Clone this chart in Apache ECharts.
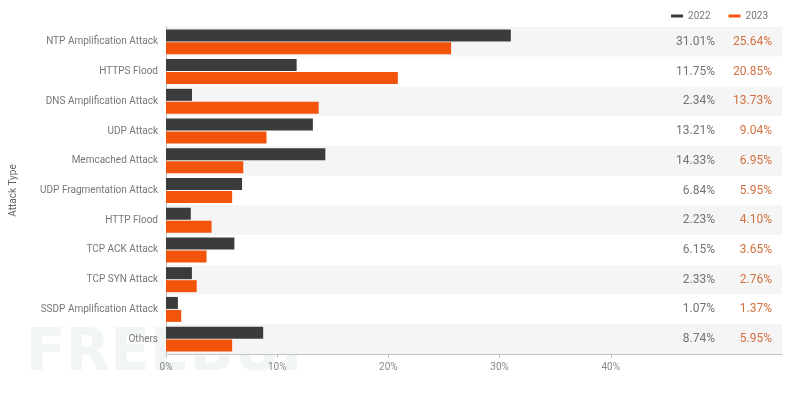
<!DOCTYPE html>
<html>
<head>
<meta charset="utf-8">
<script src="https://cdn.jsdelivr.net/npm/echarts@6/dist/echarts.min.js"></script>
<style>
html,body{margin:0;padding:0;background:#fff;}
#chart{width:811px;height:397px;}
</style>
</head>
<body>
<div id="chart"></div>
<script>
var categories = ['NTP Amplification Attack','HTTPS Flood','DNS Amplification Attack','UDP Attack','Memcached Attack','UDP Fragmentation Attack','HTTP Flood','TCP ACK Attack','TCP SYN Attack','SSDP Amplification Attack','Others']
var values2022 = [31.01,11.75,2.34,13.21,14.33,6.84,2.23,6.15,2.33,1.07,8.74]
var values2023 = [25.64,20.85,13.73,9.04,6.95,5.95,4.10,3.65,2.76,1.37,5.95]
var xTicks = [0,10,20,30,40]

var chart = echarts.init(document.getElementById('chart'))
var options = {
    animation:false,
    textStyle:{fontFamily:'Roboto'},
    legend:{
        top:6,
        right:38,
        icon:'rect',
        itemWidth:12,
        itemHeight:3,
        itemGap:18,
        textStyle:{color:'#777',fontSize:10},
        data:['2022','2023']
    },
    grid:{left:165,right:29,top:27,bottom:43},
    xAxis:{
        type:'value',
        min:0,
        max:55.4,
        interval:10,
        splitLine:{show:false},
        axisLine:{show:true,lineStyle:{color:'#c4c4c4'}},
        axisTick:{show:true,length:4,lineStyle:{color:'#c4c4c4'},customValues:xTicks},
        axisLabel:{color:'#888',fontSize:10,margin:8,customValues:xTicks,formatter:function(v){return v+'%'}}
    },
    yAxis:[{
        type:'category',
        data:categories,
        inverse:true,
        name:'Attack Type',
        nameLocation:'middle',
        nameGap:148,
        nameTextStyle:{color:'#666',fontSize:10},
        axisLine:{show:true,lineStyle:{color:'#c4c4c4'}},
        axisTick:{show:false},
        axisLabel:{color:'#777',fontSize:10,margin:8},
        splitArea:{show:true,areaStyle:{color:['#f5f5f5','#ffffff']}}
    },{
        type:'category',
        data:categories,
        inverse:true,
        position:'right',
        axisLine:{show:false},
        axisTick:{show:false},
        axisLabel:{
            inside:true,
            margin:10,
            formatter:function(v,i){
                return '{a|'+values2022[i].toFixed(2)+'%}{b|'+values2023[i].toFixed(2)+'%}'
            },
            rich:{
                a:{color:'#737373',fontSize:12,width:60,align:'right'},
                b:{color:'#d0713f',fontSize:12,width:57,align:'right'}
            }
        }
    }],
    graphic:[{
        type:'text',
        left:26,
        top:326,
        silent:true,
        z:-1,
        style:{text:'FREEBUF',fontSize:58,fontWeight:'bold',fontFamily:'DejaVu Sans',fill:'rgba(150,175,165,0.13)'}
    }],
    series:[{
        name:'2022',
        type:'bar',
        data:values2022,
        barWidth:12,
        barGap:'8%',
        itemStyle:{color:'#3b3b3b'}
    },{
        name:'2023',
        type:'bar',
        data:values2023,
        barWidth:12,
        itemStyle:{color:'#f2540c'}
    }]
}
chart.setOption(options)
window.onresize = () =>{
    chart.resize()
}
</script>
</body>
</html>
